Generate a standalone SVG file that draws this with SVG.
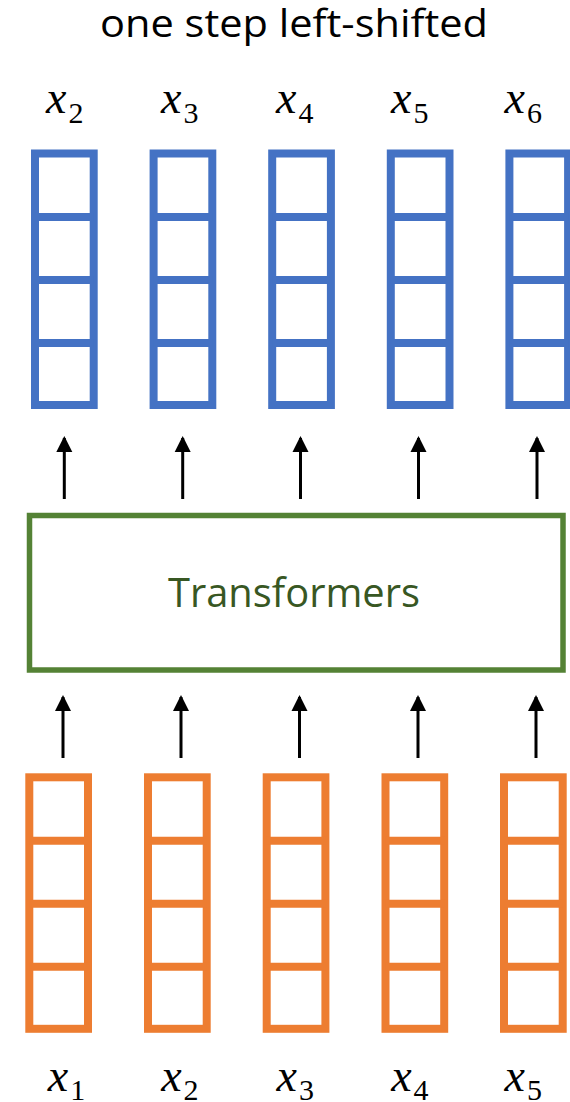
<svg xmlns="http://www.w3.org/2000/svg" width="570" height="1102" viewBox="0 0 570 1102">
  <style>
    .title { font-family: "Open Sans", "Noto Sans", sans-serif; font-size: 38px; fill: #000; }
    .tf { font-family: "Open Sans", "Noto Sans", sans-serif; font-size: 40px; fill: #385723; }
    .var { font-family: "Liberation Serif", "DejaVu Serif", serif; font-size: 46px; font-style: italic; fill: #000; }
    .sub { font-size: 30px; font-style: normal; }
    .blue { fill: none; stroke: #4472C4; stroke-width: 8; }
    .orange { fill: none; stroke: #ED7D31; stroke-width: 8; }
    .box { fill: none; stroke: #548235; stroke-width: 5.5; }
    .arrow { stroke: #000; stroke-width: 3; marker-end: url(#head); }
  </style>
  <defs>
    <marker id="head" markerUnits="userSpaceOnUse" markerWidth="16" markerHeight="17" refX="14" refY="8" orient="auto" viewBox="0 0 16 16">
      <path d="M0,0 L16,8 L0,16 Z" fill="#000"/>
    </marker>
    <!-- one embedding vector: four stacked cells -->
    <g id="vec">
      <rect x="0" y="0" width="58.7" height="251.5"/>
      <line x1="0" y1="63.5" x2="58.7" y2="63.5"/>
      <line x1="0" y1="126.5" x2="58.7" y2="126.5"/>
      <line x1="0" y1="189.5" x2="58.7" y2="189.5"/>
    </g>
  </defs>

  <g id="title">
    <text class="title" x="294" y="37" text-anchor="middle" textLength="388" lengthAdjust="spacingAndGlyphs">one step left-shifted</text>
  </g>

  <!-- output labels -->
  <g id="out-labels">
    <text class="var" x="46" y="113.3">x<tspan class="sub" dx="2" dy="10">2</tspan></text>
    <text class="var" x="161" y="113.3">x<tspan class="sub" dx="2" dy="10">3</tspan></text>
    <text class="var" x="276" y="113.3">x<tspan class="sub" dx="2" dy="10">4</tspan></text>
    <text class="var" x="391" y="113.3">x<tspan class="sub" dx="2" dy="10">5</tspan></text>
    <text class="var" x="504.5" y="113.3">x<tspan class="sub" dx="2" dy="10">6</tspan></text>
  </g>

  <!-- output vectors -->
  <g id="out1" class="blue"><use href="#vec" x="35" y="153.5"/></g>
  <g id="out2" class="blue"><use href="#vec" x="153.6" y="153.5"/></g>
  <g id="out3" class="blue"><use href="#vec" x="272.2" y="153.5"/></g>
  <g id="out4" class="blue"><use href="#vec" x="390.8" y="153.5"/></g>
  <g id="out5" class="blue"><use href="#vec" x="509.4" y="153.5"/></g>

  <g id="transformers">
    <rect class="box" x="29.5" y="515.5" width="533.5" height="154.5"/>
    <text class="tf" x="294" y="606.7" text-anchor="middle" textLength="252" lengthAdjust="spacingAndGlyphs">Transformers</text>
  </g>

  <!-- input vectors -->
  <g id="in1" class="orange"><use href="#vec" x="29.3" y="777.3"/></g>
  <g id="in2" class="orange"><use href="#vec" x="148" y="777.3"/></g>
  <g id="in3" class="orange"><use href="#vec" x="266.7" y="777.3"/></g>
  <g id="in4" class="orange"><use href="#vec" x="385.5" y="777.3"/></g>
  <g id="in5" class="orange"><use href="#vec" x="504" y="777.3"/></g>

  <!-- input labels -->
  <g id="in-labels">
    <text class="var" x="47.8" y="1090.5">x<tspan class="sub" dx="2" dy="9">1</tspan></text>
    <text class="var" x="161.2" y="1090.5">x<tspan class="sub" dx="2" dy="9">2</tspan></text>
    <text class="var" x="276.5" y="1090.5">x<tspan class="sub" dx="2" dy="9">3</tspan></text>
    <text class="var" x="391.2" y="1090.5">x<tspan class="sub" dx="2" dy="9">4</tspan></text>
    <text class="var" x="504.5" y="1090.5">x<tspan class="sub" dx="2" dy="9">5</tspan></text>
  </g>

  <g id="connectors">
    <line class="arrow" x1="64.3" y1="499" x2="64.3" y2="438"/>
    <line class="arrow" x1="182.7" y1="499" x2="182.7" y2="438"/>
    <line class="arrow" x1="300.5" y1="499" x2="300.5" y2="438"/>
    <line class="arrow" x1="418.5" y1="499" x2="418.5" y2="438"/>
    <line class="arrow" x1="537" y1="499" x2="537" y2="438"/>

    <line class="arrow" x1="63" y1="758" x2="63" y2="697"/>
    <line class="arrow" x1="181" y1="758" x2="181" y2="697"/>
    <line class="arrow" x1="299.5" y1="758" x2="299.5" y2="697"/>
    <line class="arrow" x1="418" y1="758" x2="418" y2="697"/>
    <line class="arrow" x1="536" y1="758" x2="536" y2="697"/>
  </g>
</svg>
